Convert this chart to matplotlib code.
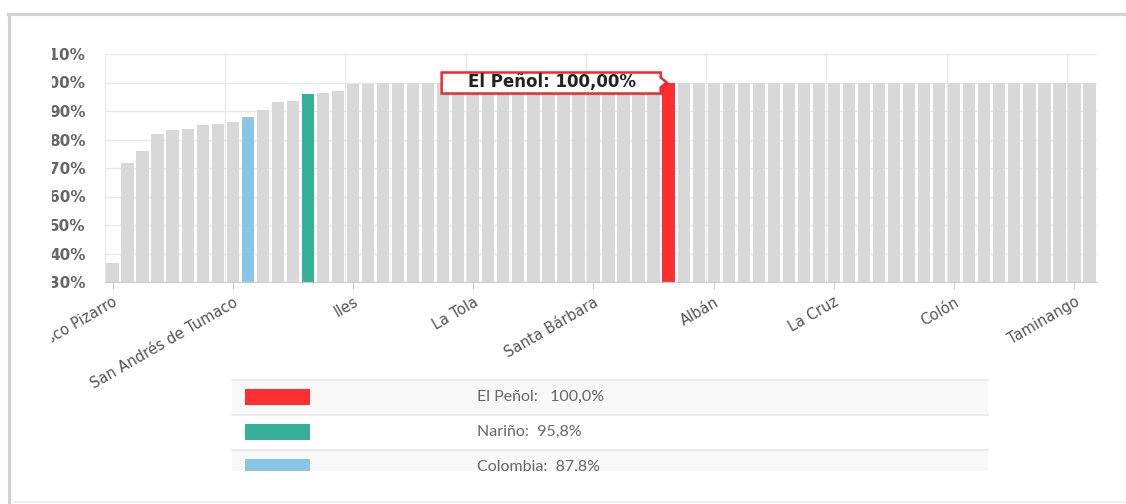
import matplotlib
matplotlib.use("Agg")
import matplotlib.pyplot as plt
import matplotlib.transforms as mtransforms
from matplotlib.patches import Polygon, Rectangle
from matplotlib.lines import Line2D

plt.rcParams["font.family"] = ["DejaVu Sans"]

W, H = 1126, 504

# % per municipality, sorted ascending (Colombia and Nariño included as reference bars)
values = [36.7, 71.8, 75.9, 82.0, 83.5, 83.8, 85.0, 85.3, 86.1, 87.8,
          90.3, 93.3, 93.5, 95.8, 96.2, 97.0, 99.3, 99.6, 100.0, 100.0,
          100.0, 100.0, 100.0, 100.0, 100.0, 100.0, 100.0, 100.0, 100.0, 100.0,
          100.0, 100.0, 100.0, 100.0, 100.0, 100.0, 100.0, 100.0, 100.0, 100.0,
          100.0, 100.0, 100.0, 100.0, 100.0, 100.0, 100.0, 100.0, 100.0, 100.0,
          100.0, 100.0, 100.0, 100.0, 100.0, 100.0, 100.0, 100.0, 100.0, 100.0,
          100.0, 100.0, 100.0, 100.0, 100.0, 100.0]
tick_labels = ["Francisco Pizarro", "San Andrés de Tumaco", "Iles", "La Tola",
               "Santa Bárbara", "Albán", "La Cruz", "Colón", "Taminango"]
tick_step = 8
y_ticks = [30, 40, 50, 60, 70, 80, 90, 100, 110]

highlight_index = [37, 13, 9]
highlight_colors = ["#ff2f2f", "#37b09a", "#88c6e6"]
legend_labels = ["El Peñol:   100,0%", "Nariño:  95,8%", "Colombia:  87,8%"]
tooltip_text = "El Peñol: 100,00%"


def fx(x):
    return x / W


def fy(y):
    return 1 - y / H


fig = plt.figure(figsize=(W / 100, H / 100), dpi=100)
fig.patch.set_facecolor("white")

# card frame
fig.add_artist(Line2D([fx(8), 1], [fy(14), fy(14)], color="#d2d2d2", lw=2.2))
fig.add_artist(Line2D([fx(9), fx(9)], [fy(14), 0], color="#d2d2d2", lw=2.2))
fig.add_artist(Line2D([fx(15), 1], [fy(502), fy(502)], color="#ededed", lw=1.5))

ax = fig.add_axes([fx(105), fy(282), 992 / W, 228 / H])
x = list(range(len(values)))
colors = ["#d8d8d8"] * len(values)
for i, c in zip(highlight_index, highlight_colors):
    colors[i] = c
ax.bar(x, values, width=0.82, color=colors, zorder=2)

ax.set_xlim(-0.5, len(values) - 0.5)
ax.set_ylim(30, 110)
ax.set_yticks(y_ticks)
ax.set_yticklabels([f"{v}%" for v in y_ticks], fontfamily="DejaVu Sans", fontweight="bold")
ax.set_xticks(x[::tick_step])
ax.set_xticklabels(tick_labels, rotation=30, ha="right", rotation_mode="anchor",
                   fontfamily="DejaVu Sans")

for v in y_ticks:
    ax.axhline(v, color="#e8e8e8", lw=1, zorder=0)
for k in range(-1, len(values), tick_step):
    ax.axvline(k + 0.5, color="#e8e8e8", lw=1, zorder=0)

for s in ["top", "right", "left"]:
    ax.spines[s].set_visible(False)
ax.spines["bottom"].set_color("#cccccc")
ax.tick_params(axis="y", length=0, pad=14, labelsize=11, labelcolor="#666666")
ax.tick_params(axis="x", length=5, color="#cccccc", pad=4, labelsize=10.5,
               labelcolor="#555555")

# tooltip on the El Peñol bar
anchor = mtransforms.ScaledTranslation(highlight_index[0], values[highlight_index[0]], ax.transData)
tip = mtransforms.IdentityTransform() + anchor
shape = [(-227, 10), (-8, 10), (-8, 5), (-2, 0), (-8, -5), (-8, -11), (-227, -11)]
shadow = [(px + 2, py - 2) for px, py in shape]
ax.add_patch(Polygon(shadow, closed=True, transform=tip, facecolor="#000000",
                     alpha=0.12, edgecolor="none", clip_on=False, zorder=5))
ax.add_patch(Polygon(shape, closed=True, transform=tip, facecolor="white",
                     edgecolor="#ee2a2a", lw=1.8, clip_on=False, zorder=6))
tip_text = mtransforms.Affine2D().translate(-117, 0) + anchor
ax.text(0, 0, tooltip_text, transform=tip_text, fontsize=12, fontweight="bold",
        family="DejaVu Sans", color="#222222", ha="center", va="center",
        zorder=7, clip_on=False)

# legend table, cut off at the bottom like the reference
clip_bottom = mtransforms.TransformedBbox(
    mtransforms.Bbox([[0, fy(471)], [1, 1]]), fig.transFigure)
row_top = [380, 415, 450]
row_bg = ["#f8f8f8", "#ffffff", "#f8f8f8"]
for top, bg, col, lab in zip(row_top, row_bg, highlight_colors, legend_labels):
    r = Rectangle((fx(232), fy(top + 35)), (988 - 232) / W, 35 / H,
                  transform=fig.transFigure, facecolor=bg, edgecolor="none")
    fig.add_artist(r)
    fig.add_artist(Line2D([fx(232), fx(988)], [fy(top), fy(top)], color="#e6e6e6", lw=1.2))
    sw = Rectangle((fx(245), fy(top + 25)), 65 / W, 16 / H,
                   transform=fig.transFigure, facecolor=col, edgecolor="none")
    fig.add_artist(sw)
    t = fig.text(fx(477), fy(top + 17), lab, fontsize=11.5, color="#666666",
                 va="center", ha="left", family="Lato")
    for a in (r, sw, t):
        a.set_clip_box(clip_bottom)
        a.set_clip_on(True)

fig.canvas.draw()
clip_left = mtransforms.TransformedBbox(
    mtransforms.Bbox([[fx(52), 0], [1, 1]]), fig.transFigure)
for tick in ax.yaxis.get_major_ticks() + ax.xaxis.get_major_ticks():
    tick.label1.set_clip_box(clip_left)
    tick.label1.set_clip_on(True)

fig.savefig("out.png", dpi=100, facecolor="white")
